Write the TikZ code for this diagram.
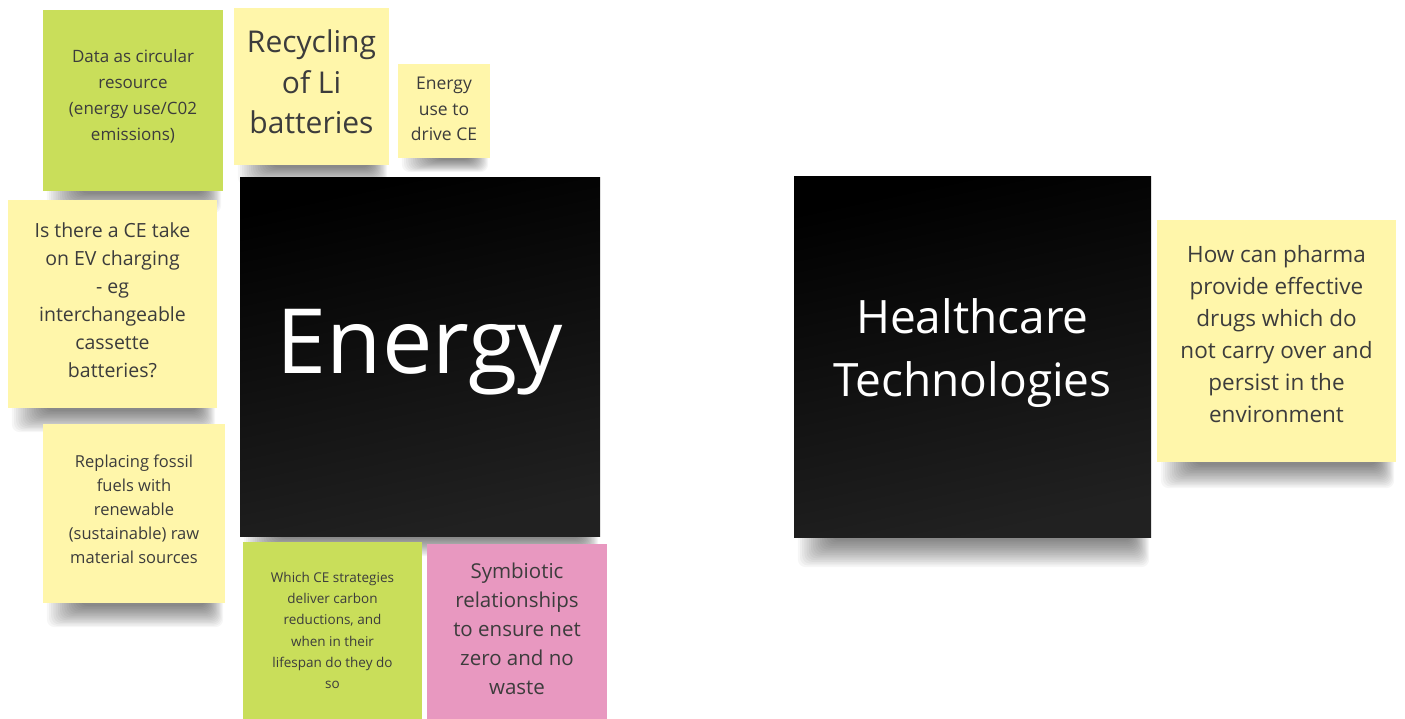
\documentclass[tikz,border=0pt]{standalone}
\usepackage{fontspec}
\setmainfont{Open Sans}
\usetikzlibrary{backgrounds}
\definecolor{noteyellow}{RGB}{255,246,170}
\definecolor{notegreen}{RGB}{201,222,90}
\definecolor{notepink}{RGB}{232,152,192}
\definecolor{notetext}{RGB}{60,60,60}
\tikzset{
  note/.style={rectangle, inner sep=0pt},
  yellownote/.style={note, fill=noteyellow},
  greennote/.style={note, fill=notegreen},
  pinknote/.style={note, fill=notepink},
  topic/.style={rectangle, inner sep=0pt,
    top color=black, bottom color=black!87!white, shading angle=12},
  notelabel/.style={align=center, text=notetext, inner sep=0pt},
  topiclabel/.style={align=center, text=white, inner sep=0pt},
  fs/.style 2 args={font=\fontsize{#1}{#2}\selectfont}
}
% soft shadow under the bottom edge of a note (#1 = node name, #2 = depth)
\newcommand\noteshadow[2]{%
  \foreach \k in {0,...,15}{%
    \fill[black, opacity=0.034, rounded corners=8pt]
      ([xshift={(4+2.2*\k)*1pt}, yshift=14pt]#1.south west) rectangle
      ([xshift={(-2-1.1*\k)*1pt}, yshift={-(#2-#2*\k/17)*1pt}]#1.south east);}}
\begin{document}
\begin{tikzpicture}[x=1pt,y=-1pt]
\useasboundingbox (0,0) rectangle (1405,719);

% Energy cluster: note shapes
\node[greennote, minimum width=180, minimum height=181] (data) at (133,100.5) {};
\node[yellownote, minimum width=155, minimum height=157] (recycle) at (311.5,86.5) {};
\node[yellownote, minimum width=92, minimum height=94] (drive) at (444,111) {};
\node[topic, minimum width=360, minimum height=358] (energy) at (420,357) {};
\node[yellownote, minimum width=209, minimum height=208] (ev) at (112.5,304) {};
\node[yellownote, minimum width=182, minimum height=179] (fossil) at (134,513.5) {};
\node[greennote, minimum width=179, minimum height=177] (strat) at (332.5,630.5) {};
\node[pinknote, minimum width=180, minimum height=175] (symb) at (517,631.5) {};

% Healthcare cluster: note shapes
\node[topic, minimum width=357, minimum height=360] (health) at (972.5,357) {};
\node[yellownote, minimum width=239, minimum height=242] (pharma) at (1276.5,341) {};

% Texts
\node[notelabel, fs={17}{26}, yshift=4pt] (data-t) at (data) {Data as circular\\resource\\(energy use/C02\\emissions)};
\node[notelabel, fs={30}{40.5}, yshift=4.5pt] (recycle-t) at (recycle) {Recycling\\of Li\\batteries};
\node[notelabel, fs={17.5}{25.5}, yshift=2pt] (drive-t) at (drive) {Energy\\use to\\drive CE};
\node[topiclabel, fs={90}{100}, yshift=5pt] (energy-t) at (energy) {Energy};
\node[notelabel, fs={19.5}{28}, yshift=4pt] (ev-t) at (ev) {Is there a CE take\\on EV charging\\- eg\\interchangeable\\cassette\\batteries?};
\node[notelabel, fs={16.5}{24}, yshift=4.5pt] (fossil-t) at (fossil) {Replacing fossil\\fuels with\\renewable\\(sustainable) raw\\material sources};
\node[notelabel, fs={13.5}{21.3}] (strat-t) at (strat) {Which CE strategies\\deliver carbon\\reductions, and\\when in their\\lifespan do they do\\so};
\node[notelabel, fs={20.5}{29}, yshift=3pt] (symb-t) at (symb) {Symbiotic\\relationships\\to ensure net\\zero and no\\waste};
\node[topiclabel, fs={46}{63}, yshift=4pt] (health-t) at (health) {Healthcare\\Technologies};
\node[notelabel, fs={22.5}{32}, yshift=7pt] (pharma-t) at (pharma) {How can pharma\\provide effective\\drugs which do\\not carry over and\\persist in the\\environment};

% Page and shadows behind the notes
\begin{scope}[on background layer]
  \fill[white] (0,0) rectangle (1405,719);
  \noteshadow{data}{22}
  \noteshadow{recycle}{20}
  \noteshadow{drive}{14}
  \noteshadow{ev}{24}
  \noteshadow{fossil}{24}
  \noteshadow{energy}{20}
  \noteshadow{health}{30}
  \noteshadow{pharma}{26}
\end{scope}
\end{tikzpicture}
\end{document}
